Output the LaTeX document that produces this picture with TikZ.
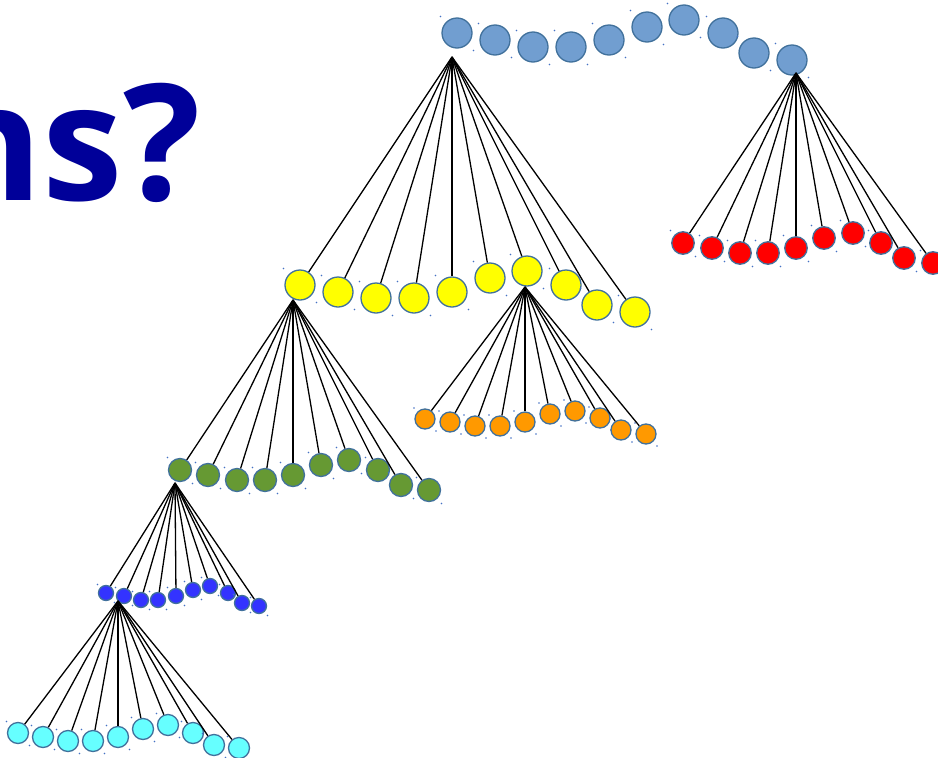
\documentclass[tikz,border=0pt]{standalone}
\usepackage{fontspec}
\newfontfamily\titlefont{Open Sans}
\definecolor{titleblue}{RGB}{0,0,153}
\definecolor{outl}{RGB}{65,113,156}
\definecolor{dotc}{RGB}{68,114,196}
\definecolor{cTop}{RGB}{113,158,208}
\definecolor{cYel}{RGB}{255,255,0}
\definecolor{cRed}{RGB}{255,0,0}
\definecolor{cOra}{RGB}{255,153,0}
\definecolor{cGre}{RGB}{102,153,51}
\definecolor{cBlu}{RGB}{51,51,255}
\definecolor{cCya}{RGB}{102,255,255}
\begin{document}
\begin{tikzpicture}[x=1pt,y=-1pt,
  ball/.style={circle,draw=outl,line width=1.3pt,inner sep=0pt,minimum size=#1},
  tline/.style={black,line width=1.3pt},
  handle/.style={fill=dotc}]
\useasboundingbox (0,0) rectangle (938,758);
\node[anchor=base east,text=titleblue,inner sep=0pt,
  font=\titlefont\bfseries\fontsize{162}{162}\selectfont] (title) at (201,200) {ns?};
% top blue row
\foreach \x/\y [count=\i] in {457/33,495/40,533/47,571/47,609/40,647/27,684/20,723/33,754/53,792/60}{
  \node[ball=30pt,fill=cTop] (b\i) at (\x,\y) {};
  \fill[handle] (\x-16.5,\y-16.5) circle[radius=0.9pt] (\x+16.5,\y+17.5) circle[radius=0.9pt];
}
% yellow row
\foreach \x/\y [count=\i] in {300/285,338/292,376/298,414/298,452/292,490/278,527/271,566/285,597/305,635/312}{
  \node[ball=30pt,fill=cYel] (y\i) at (\x,\y) {};
  \fill[handle] (\x-16.5,\y-16.5) circle[radius=0.9pt] (\x+16.5,\y+17.5) circle[radius=0.9pt];
}
% red row
\foreach \x/\y [count=\i] in {683/243,712/248,740/253,768/253,796/248,824/238,853/233,881/243,904/258,933/263}{
  \node[ball=22.5pt,fill=cRed] (r\i) at (\x,\y) {};
  \fill[handle] (\x-12.5,\y-12.5) circle[radius=0.9pt] (\x+12.5,\y+13.5) circle[radius=0.9pt];
}
% orange row
\foreach \x/\y [count=\i] in {425/419,450/422,475/426,500/426,525/422,550/414,575/411,600/418,621/430,646/434}{
  \node[ball=20pt,fill=cOra] (o\i) at (\x,\y) {};
  \fill[handle] (\x-11,\y-11) circle[radius=0.9pt] (\x+11,\y+12) circle[radius=0.9pt];
}
% green row
\foreach \x/\y [count=\i] in {180/470,208/475,237/480,265/480,293/475,321/465,349/460,378/470,401/485,429/490}{
  \node[ball=23pt,fill=cGre] (g\i) at (\x,\y) {};
  \fill[handle] (\x-12.5,\y-12.5) circle[radius=0.9pt] (\x+12.5,\y+13.5) circle[radius=0.9pt];
}
% small blue row
\foreach \x/\y [count=\i] in {106/593,124/596,141/600,158/600,176/596,193/590,210/586,228/593,242/603,259/606}{
  \node[ball=15pt,fill=cBlu] (u\i) at (\x,\y) {};
  \fill[handle] (\x-8.5,\y-8.5) circle[radius=0.9pt] (\x+8.5,\y+9.5) circle[radius=0.9pt];
}
% cyan row
\foreach \x/\y [count=\i] in {18/733,43/737,68/741,93/741,118/737,143/729,168/725,193/733,214/745,239/748}{
  \node[ball=21pt,fill=cCya] (c\i) at (\x,\y) {};
  \fill[handle] (\x-11.5,\y-11.5) circle[radius=0.9pt] (\x+11.5,\y+12.5) circle[radius=0.9pt];
}
% roots
\coordinate (rootY) at (452,57);
\coordinate (rootR) at (796,73);
\coordinate (rootG) at (293,300);
\coordinate (rootO) at (525,287);
\coordinate (rootU) at (175,483);
\coordinate (rootC) at (118,601);
\foreach \i in {1,...,10}{
  \draw[tline] (rootY) -- (y\i);
  \draw[tline] (rootR) -- (r\i);
  \draw[tline] (rootG) -- (g\i);
  \draw[tline] (rootO) -- (o\i);
  \draw[tline] (rootU) -- (u\i);
  \draw[tline] (rootC) -- (c\i);
}
\end{tikzpicture}
\end{document}
